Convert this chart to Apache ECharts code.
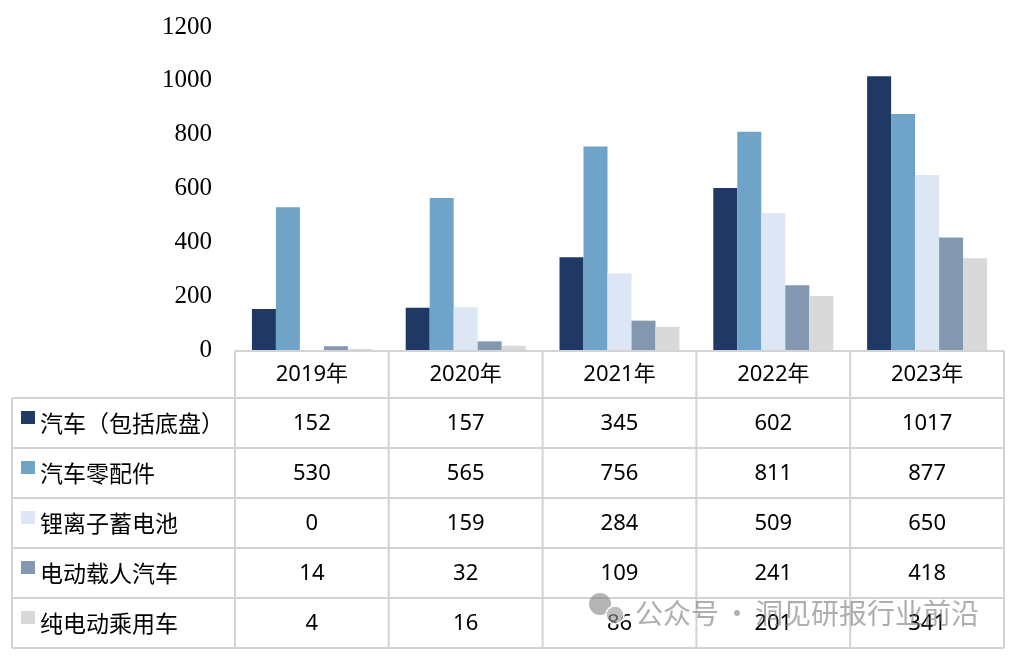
<!DOCTYPE html>
<html><head><meta charset="utf-8">
<script src="https://cdn.jsdelivr.net/npm/echarts@6/dist/echarts.min.js"></script>
<style>html,body{margin:0;padding:0;background:#fff}#c{width:1017px;height:656px}</style>
</head><body><div id="c"></div>
<script>
const categories = ['2019年','2020年','2021年','2022年','2023年'];
const seriesNames = ['汽车（包括底盘）','汽车零配件','锂离子蓄电池','电动载人汽车','纯电动乘用车'];
const sCar = [152,157,345,602,1017];
const sParts = [530,565,756,811,877];
const sBattery = [0,159,284,509,650];
const sEV = [14,32,109,241,418];
const sBEV = [4,16,86,201,341];
const yTicks = [0,200,400,600,800,1000,1200];
const colors = ['#203864','#6fa3c8','#dce6f4','#8497b0','#d9d9d9'];
const allSeries = [sCar,sParts,sBattery,sEV,sBEV];

const chart = echarts.init(document.getElementById('c'));
const gridLeft = 235, gridRight = 13, gridTop = 27, gridBottom = 306;
chart.setOption({
  animation:false,
  grid:{left:gridLeft,right:gridRight,top:gridTop,bottom:gridBottom},
  xAxis:{type:'category',data:categories,axisLine:{show:false},axisTick:{show:false},axisLabel:{show:false}},
  yAxis:{type:'value',min:yTicks[0],max:yTicks[yTicks.length-1],interval:200,
    axisLine:{show:false},axisTick:{show:false},splitLine:{show:false},
    axisLabel:{margin:23,color:'#000',fontFamily:'Liberation Serif',fontSize:25,formatter:v=>String(v)}},
  series: allSeries.map((d,i)=>({type:'bar',name:seriesNames[i],data:d,barGap:'0%',barCategoryGap:'22%',
    itemStyle:{color:colors[i]}}))
});

// data table
const lineColor = '#d3d3d3';
const tableTop = 350, headerH = 48, rowH = 50, tableLeft = 12;
const right = 1017 - gridRight;
const catW = (right - gridLeft) / categories.length;
const g = [];
const bottom = tableTop + headerH + rowH * seriesNames.length;
g.push({type:'line',shape:{x1:gridLeft,y1:tableTop+1,x2:right,y2:tableTop+1},style:{stroke:lineColor,lineWidth:2}});
for(let r=0;r<=seriesNames.length;r++){
  const y = tableTop+headerH+r*rowH;
  g.push({type:'line',shape:{x1:tableLeft,y1:y,x2:right,y2:y},style:{stroke:lineColor,lineWidth:2}});
}
g.push({type:'line',shape:{x1:tableLeft,y1:tableTop+headerH,x2:tableLeft,y2:bottom},style:{stroke:lineColor,lineWidth:2}});
for(let c=0;c<=categories.length;c++){
  const x = gridLeft + c*catW;
  g.push({type:'line',shape:{x1:x,y1:tableTop+1,x2:x,y2:bottom},style:{stroke:lineColor,lineWidth:2}});
}
categories.forEach((cat,ci)=>{
  const cx = chart.convertToPixel({xAxisIndex:0},cat);
  g.push({type:'text',style:{text:cat,x:cx,y:tableTop+headerH/2+1,align:'center',verticalAlign:'middle',
    fontFamily:'Noto Sans, Noto Sans CJK SC',fontSize:22,fill:'#000'}});
  allSeries.forEach((d,si)=>{
    g.push({type:'text',style:{text:String(d[ci]),x:cx,y:tableTop+headerH+si*rowH+rowH/2+1,align:'center',verticalAlign:'middle',
      fontFamily:'Noto Sans',fontSize:22,fill:'#000'}});
  });
});
seriesNames.forEach((n,si)=>{
  const yc = tableTop+headerH+si*rowH+rowH/2;
  g.push({type:'rect',shape:{x:21,y:yc-12,width:14,height:13},style:{fill:colors[si]}});
  g.push({type:'text',style:{text:n,x:40,y:yc,align:'left',verticalAlign:'middle',
    fontFamily:'Noto Sans CJK SC',fontSize:23,fill:'#000'}});
});
// watermark
const wm = 'rgba(120,120,120,0.55)';
g.push({type:'circle',shape:{cx:600,cy:604,r:11},style:{fill:wm}});
g.push({type:'circle',shape:{cx:615,cy:615,r:9},style:{fill:'rgba(150,150,150,0.6)',stroke:'#fff',lineWidth:1.5}});
const wf = {fontFamily:'Noto Sans CJK SC',fontSize:28,fill:'rgba(120,120,120,0.6)',verticalAlign:'middle'};
g.push({type:'text',style:Object.assign({text:'公众号',x:635,y:613,align:'left'},wf)});
g.push({type:'text',style:Object.assign({text:'·',x:737,y:613,align:'center'},wf)});
g.push({type:'text',style:Object.assign({text:'洞见研报行业前沿',x:755,y:613,align:'left'},wf)});
chart.setOption({graphic:g});
</script></body></html>
